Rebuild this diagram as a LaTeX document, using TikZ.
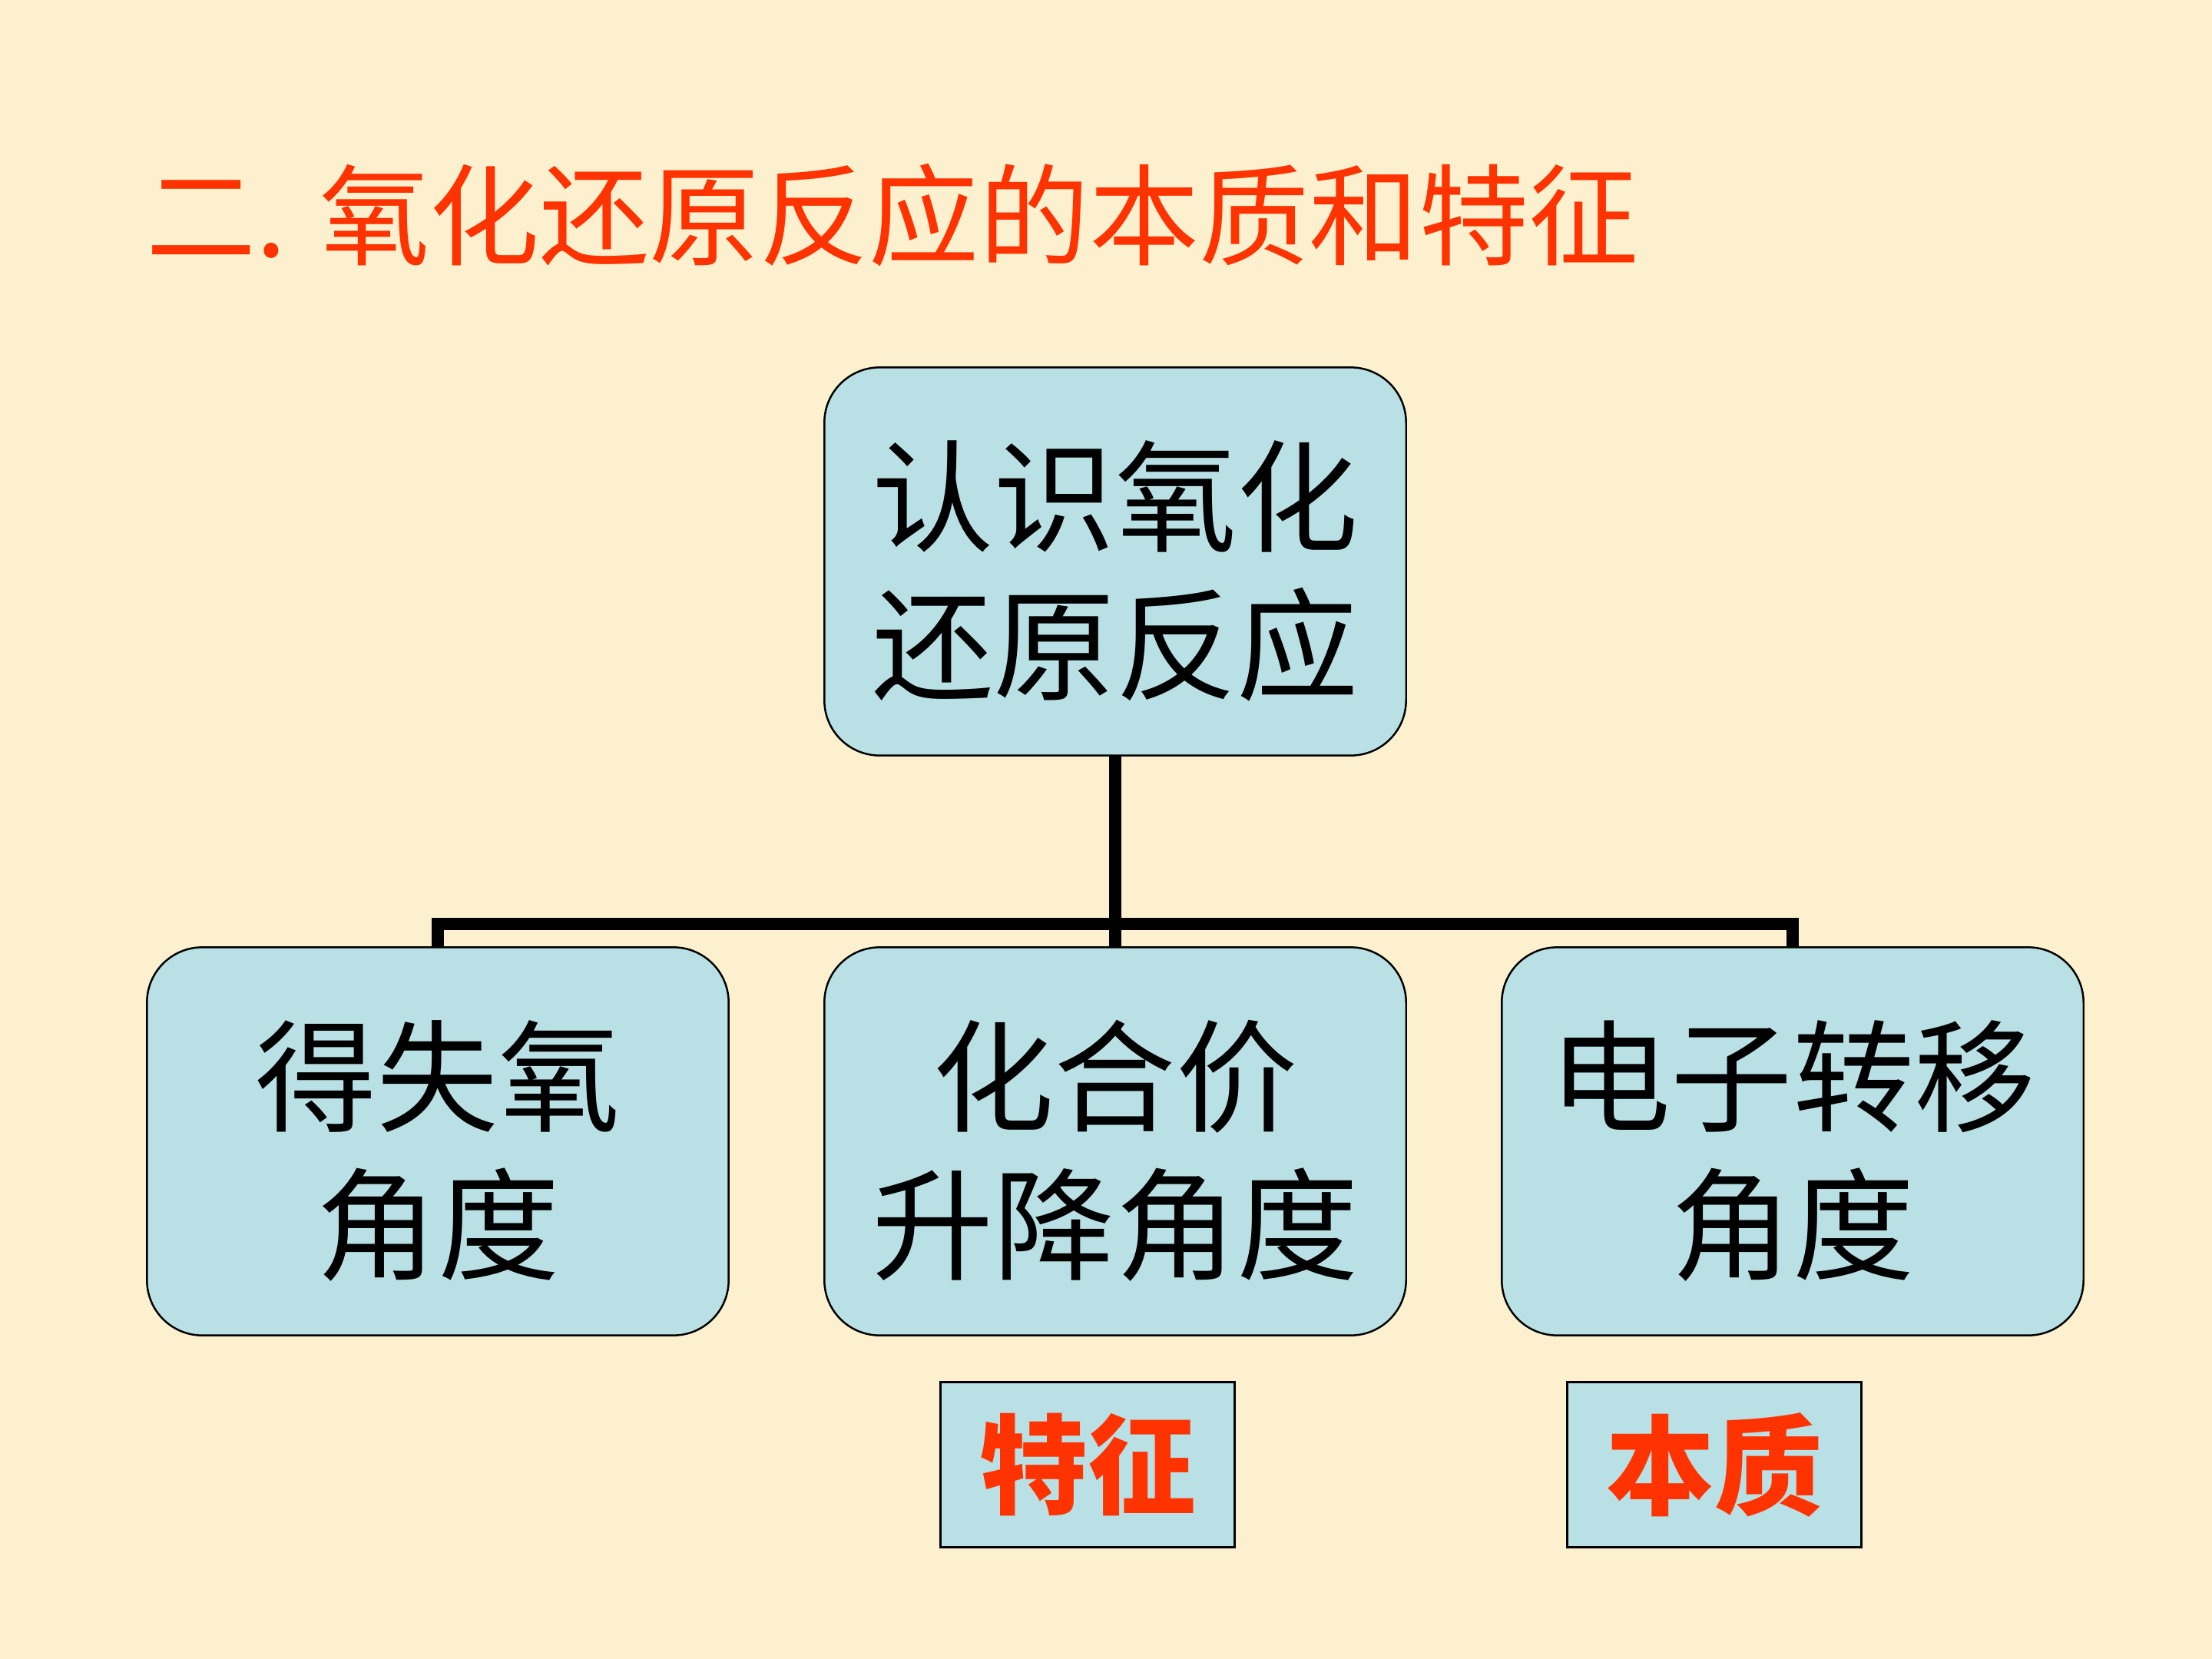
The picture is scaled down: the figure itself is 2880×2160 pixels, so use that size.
\documentclass[tikz,border=0pt]{standalone}
\usepackage{fontspec}
\usepackage{xcolor}
\usepackage{tikz}
\usetikzlibrary{positioning, calc}
\setmainfont{Noto Sans CJK SC}
\definecolor{fondbeige}{RGB}{252,240,206}
\definecolor{boitebleu}{RGB}{185,224,228}
\definecolor{titrerouge}{RGB}{255,51,0}

\begin{document}
\begin{tikzpicture}[x=0.01cm, y=-0.01cm, every node/.style={inner sep=0pt},
    boite/.style={draw, line width=0.7pt, fill=boitebleu, rounded corners=0.72cm, minimum width=7.57cm, minimum height=5.05cm, align=center, font=\fontsize{45}{55}\selectfont, execute at begin node=\rule{0pt}{100pt}},
    etiquette/.style={draw, line width=0.8pt, fill=boitebleu, minimum width=3.82cm, minimum height=2.15cm, text=titrerouge, font=\fontsize{40}{48}\selectfont\bfseries},
    arbre/.style={line width=4.8pt}]
    \fill[fondbeige] (0,0) rectangle (2880,2160);
    \useasboundingbox (0,0) rectangle (2880,2160);

    \node[anchor=base west, text=titrerouge, font=\fontsize{40.7}{48}\selectfont] (titre) at (190,334) {二. 氧化还原反应的本质和特征};

    \node[boite] (racine) at (1452,731) {认识氧化\\还原反应};
    \node[boite] (oxygene) at (570,1486) {得失氧\\角度};
    \node[boite] (valence) at (1452,1486) {化合价\\升降角度};
    \node[boite] (electron) at (2334,1486) {电子转移\\角度};

    \node[etiquette] (trait) at (1416,1907) {特征};
    \node[etiquette] (nature) at (2232,1907) {本质};

    % arbre des angles
    \coordinate (jonction) at (1452,1203);
    \draw[arbre] (racine.south) -- (valence.north);
    \draw[arbre] (oxygene.north) |- (jonction) -| (electron.north);
\end{tikzpicture}
\end{document}
